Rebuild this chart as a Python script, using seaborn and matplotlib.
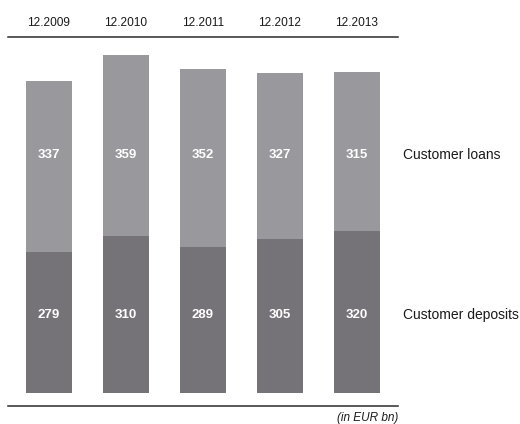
import matplotlib
matplotlib.use("Agg")
import matplotlib.pyplot as plt
import matplotlib.transforms as mtransforms
import seaborn as sns
import pandas as pd

periods = ["12.2009", "12.2010", "12.2011", "12.2012", "12.2013"]
customer_loans = [337, 359, 352, 327, 315]
customer_deposits = [279, 310, 289, 305, 320]

series_names = ["Customer loans", "Customer deposits"]
unit_note = "(in EUR bn)"

LIGHT = "#99989c"
DARK = "#767378"
LINE = "#2b2b2b"

sns.set_theme(style="white")
plt.rcParams["font.family"] = ["Liberation Sans", "DejaVu Sans"]

df = pd.DataFrame({
    "period": periods,
    "loans": customer_loans,
    "deposits": customer_deposits,
})
df["total"] = df["loans"] + df["deposits"]

fig = plt.figure(figsize=(5.2, 4.24), dpi=100)
ax = fig.add_axes([8 / 520, 1 - 406 / 424, 390 / 520, 369 / 424])

# stacked bars: full height (loans on top) drawn first, deposits over the base
sns.barplot(data=df, x="period", y="total", color=LIGHT, width=0.6,
            saturation=1, ax=ax, order=periods, linewidth=0, edgecolor="none")
sns.barplot(data=df, x="period", y="deposits", color=DARK, width=0.6,
            saturation=1, ax=ax, order=periods, linewidth=0, edgecolor="none")

ax.set_xlim(-0.532, 4.532)
ax.set_ylim(-25.7, 703.6)

loan_label_y = 470
deposit_label_y = 154
for i, (ln, dp) in enumerate(zip(customer_loans, customer_deposits)):
    ax.text(i, loan_label_y, f"{ln}", ha="center", va="center",
            color="white", fontsize=9.5, fontweight="bold")
    ax.text(i, deposit_label_y, f"{dp}", ha="center", va="center",
            color="white", fontsize=9.5, fontweight="bold")

# series names to the right of the bars
trans = mtransforms.blended_transform_factory(ax.transAxes, ax.transData)
ax.text(1.013, loan_label_y, series_names[0], transform=trans,
        ha="left", va="center", fontsize=10, color="#1a1a1a")
ax.text(1.013, deposit_label_y, series_names[1], transform=trans,
        ha="left", va="center", fontsize=10, color="#1a1a1a")

# period labels along the top rule
ax.xaxis.tick_top()
ax.xaxis.set_label_position("top")
ax.tick_params(axis="x", length=0, pad=6, labelsize=8.6, labelcolor="#1a1a1a")
ax.set_xlabel("")
ax.set_ylabel("")
ax.set_yticks([])

for side in ["left", "right"]:
    ax.spines[side].set_visible(False)
for side in ["top", "bottom"]:
    ax.spines[side].set_visible(True)
    ax.spines[side].set_color(LINE)
    ax.spines[side].set_linewidth(1.1)

ax.text(1.0, -0.016, unit_note, transform=ax.transAxes, ha="right", va="top",
        fontsize=8.5, fontstyle="italic", color="#1a1a1a")

fig.savefig("out.png", dpi=100)
